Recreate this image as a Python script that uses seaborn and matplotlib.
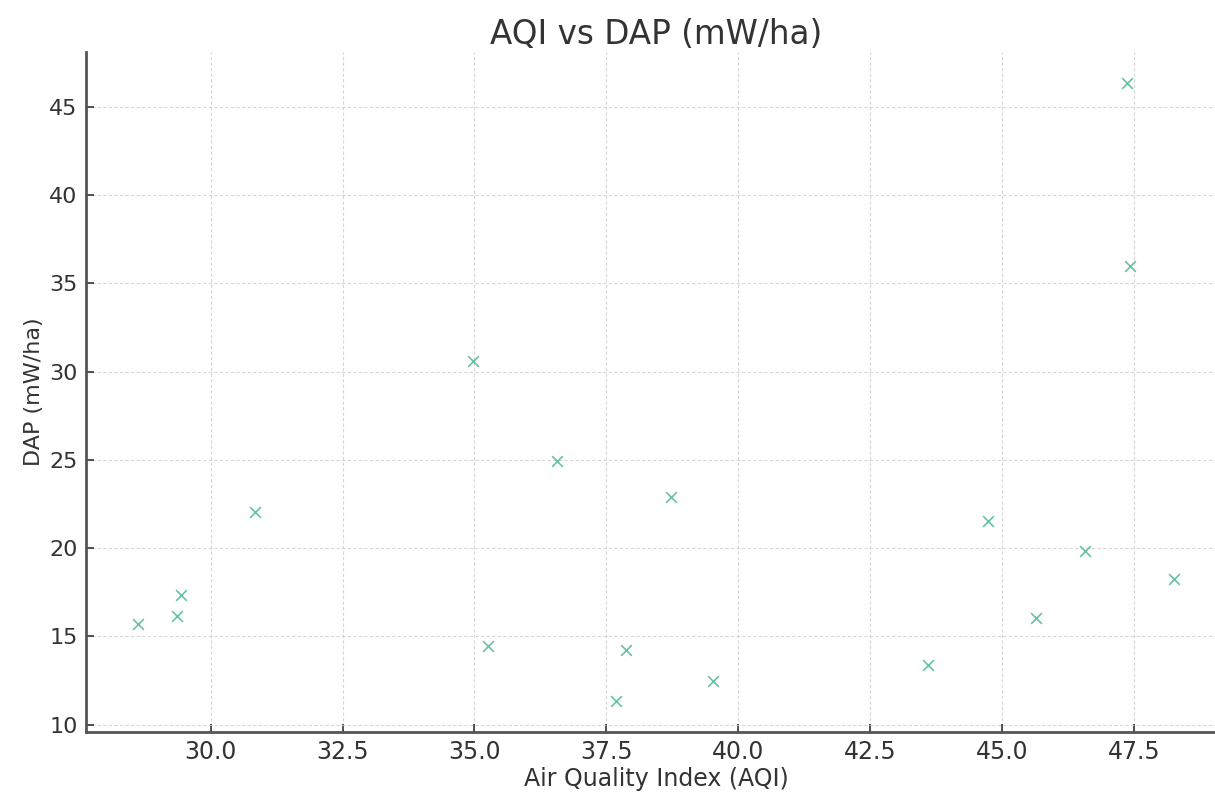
import numpy as np
import pandas as pd
import matplotlib
matplotlib.use("Agg")
import matplotlib.pyplot as plt
import seaborn as sns

# ==== data ====
aqi = [28.62, 29.36, 29.44, 30.85, 34.97, 35.25, 36.57, 37.68, 37.88, 38.72,
       39.52, 43.59, 44.73, 45.64, 46.57, 47.36, 47.43, 48.26]
dap = [15.71, 16.13, 17.35, 22.07, 30.57, 14.45, 24.91, 11.34, 14.26, 22.89,
       12.47, 13.40, 21.53, 16.06, 19.86, 46.34, 35.99, 18.26]

df = pd.DataFrame({"AQI": aqi, "DAP": dap})

sns.set_theme(style="white")
plt.rcParams['font.family'] = ['DejaVu Sans']

fig = plt.figure(figsize=(12.15, 7.95), dpi=100)
# axes run past the right edge, as in the (cropped) reference
ax = fig.add_axes([86 / 1215, (795 - 732) / 795, 1140 / 1215, 680 / 795])

sns.scatterplot(data=df, x="AQI", y="DAP", marker="x", s=60,
                color="#66c2a5", linewidth=1.2, ax=ax)

ax.set_title("AQI vs DAP (mW/ha)", fontsize=23.5, color="#333333", pad=6)
ax.set_xlabel("Air Quality Index (AQI)", fontsize=17, color="#333333", labelpad=2)
ax.set_ylabel("DAP (mW/ha)", fontsize=16, color="#333333", labelpad=4)

ax.set_xticks([30.0, 32.5, 35.0, 37.5, 40.0, 42.5, 45.0, 47.5])
ax.set_yticks([10, 15, 20, 25, 30, 35, 40, 45])
ax.tick_params(axis="both", colors="#333333", direction="in",
               length=6, width=1.2, left=True, bottom=True)
ax.tick_params(axis="x", labelsize=17, pad=6)
ax.tick_params(axis="y", labelsize=16, pad=6)

ax.grid(True, linestyle=(0, (3, 2)), color="#cccccc", linewidth=0.8, alpha=0.8)
for side in ["top", "right"]:
    ax.spines[side].set_visible(False)
for side in ["left", "bottom"]:
    ax.spines[side].set_color("#555555")
    ax.spines[side].set_linewidth(2)

fig.savefig("out.png", dpi=100)
